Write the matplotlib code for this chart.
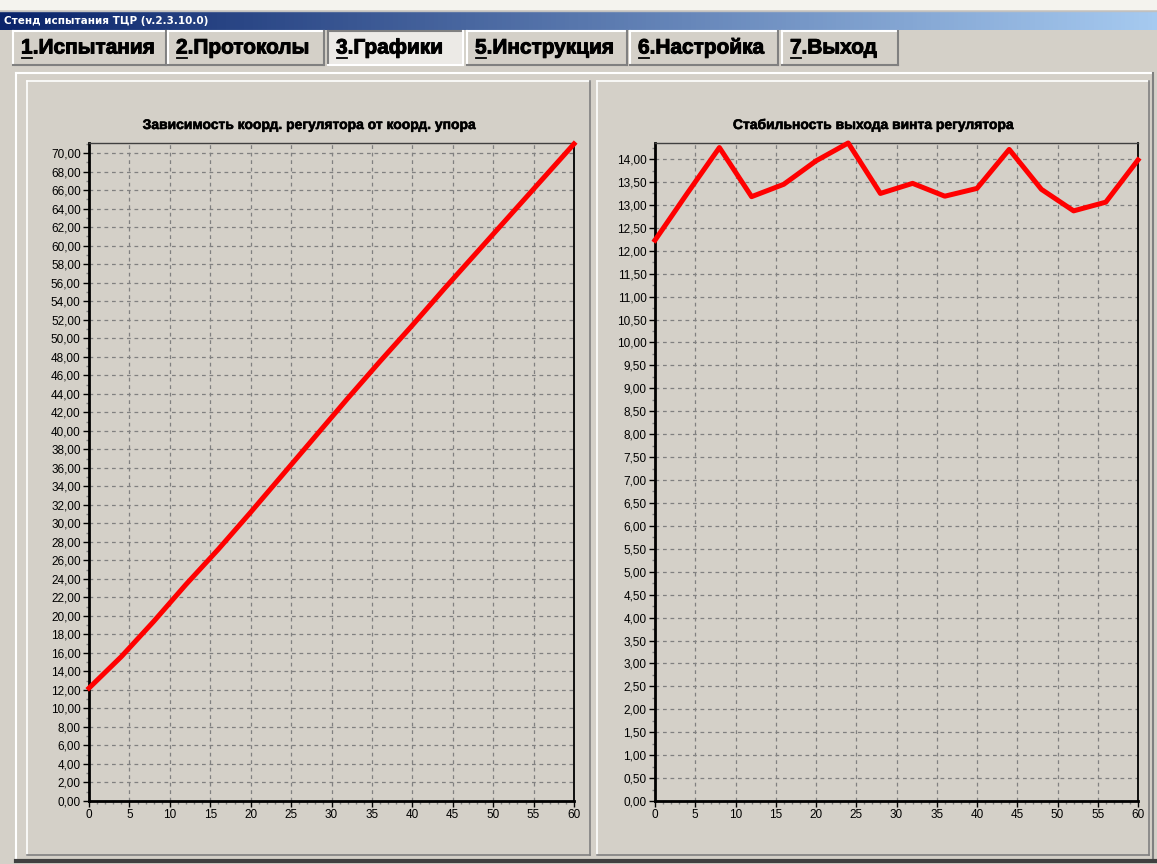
import numpy as np
import matplotlib
matplotlib.use('Agg')
import matplotlib.pyplot as plt
import matplotlib.patheffects as pe
from matplotlib.patches import Rectangle
from matplotlib.ticker import MultipleLocator, FuncFormatter

plt.rcParams['font.family'] = ['Liberation Sans', 'DejaVu Sans']

# data
x_pts = [0, 4, 8, 12, 16, 20, 24, 28, 32, 36, 40, 44, 48, 52, 56, 60]
reg_coord = [12.2, 15.6, 19.4, 23.4, 27.2, 31.2, 35.3, 39.4, 43.5, 47.5,
             51.4, 55.4, 59.3, 63.2, 67.1, 71.0]
screw_out = [12.23, 13.25, 14.25, 13.18, 13.45, 13.96, 14.35, 13.25, 13.47,
             13.19, 13.36, 14.21, 13.34, 12.87, 13.06, 13.98]

win_title = 'Стенд испытания ТЦР (v.2.3.10.0)'
tabs = [('1', '.Испытания'), ('2', '.Протоколы'), ('3', '.Графики'),
        ('5', '.Инструкция'), ('6', '.Настройка'), ('7', '.Выход')]
tab_x = [(13, 166), (168, 324), (328, 463), (467, 627), (630, 778), (782, 898)]
title_left = 'Зависимость коорд. регулятора от коорд. упора'
title_right = 'Стабильность выхода винта регулятора'

W, H = 1157, 864
BG = '#D4D0C8'
fig = plt.figure(figsize=(W / 100, H / 100), dpi=100)
fig.patch.set_facecolor(BG)

# background drawing area in pixel coords
bg = fig.add_axes([0, 0, 1, 1])
bg.set_xlim(0, W)
bg.set_ylim(H, 0)
bg.axis('off')

bg.add_patch(Rectangle((0, 0), W, 10, color='#F4F3EE', lw=0))
bg.plot([0, W], [10.5, 10.5], color='#C0C0C0', lw=1)
grad = np.linspace(0, 1, 256)
c0 = np.array([10, 36, 106]) / 255
c1 = np.array([166, 202, 240]) / 255
img = (c0[None, :] * (1 - grad[:, None]) + c1[None, :] * grad[:, None])[None, :, :]
bg.imshow(img, extent=[0, W, 30, 12], aspect='auto', zorder=1)
bg.text(4, 21, win_title, color='white', fontsize=7.5, fontweight='bold',
        family=['DejaVu Sans'], va='center', ha='left', zorder=2)

heavy = [pe.withStroke(linewidth=0.7, foreground='black')]


def bevel(x0, y0, x1, y1, raised=True, lw=1.2):
    light, dark = ('white', '#808080') if raised else ('#808080', 'white')
    bg.plot([x0, x1], [y0, y0], color=light, lw=lw, zorder=3)
    bg.plot([x0, x0], [y0, y1], color=light, lw=lw, zorder=3)
    bg.plot([x0, x1], [y1, y1], color=dark, lw=lw, zorder=3)
    bg.plot([x1, x1], [y0, y1], color=dark, lw=lw, zorder=3)


# tabs
fig.canvas.draw()
r = fig.canvas.get_renderer()
for (num, rest), (xa, xb) in zip(tabs, tab_x):
    pressed = num == '3'
    bg.add_patch(Rectangle((xa, 31), xb - xa, 34, color='#ECEAE6' if pressed else BG,
                           lw=0, zorder=2))
    bevel(xa, 31, xb, 65, raised=not pressed, lw=1.5)
    t1 = bg.text(xa + 8, 48, num, fontsize=15, fontweight='bold', va='center',
                 ha='left', zorder=4, path_effects=heavy)
    bb = t1.get_window_extent(r)
    xl = xa + 8
    xr = xl + bb.width
    bg.plot([xl + 1, xr - 1], [57.5, 57.5], color='black', lw=1.3, zorder=4)
    bg.text(xr, 48, rest, fontsize=15, fontweight='bold', va='center',
            ha='left', zorder=4, path_effects=heavy)

# panels
bevel(16, 73, 1153, 861, raised=True, lw=1.5)
bg.plot([16, 1155], [861, 861], color='#404040', lw=3, zorder=3)
bevel(27, 81, 590, 855, raised=True, lw=1.2)
bevel(597, 81, 1149, 855, raised=True, lw=1.2)


def make_axes(rect, xs, ys, ymax, ystep, yminor, title, tx):
    ax = fig.add_axes(rect)
    ax.set_facecolor(BG)
    ax.plot(xs, ys, color='#FF0000', lw=3.6, solid_joinstyle='round', clip_on=False, zorder=5)
    ax.set_xlim(0, 60)
    ax.set_ylim(0, ymax)
    ax.xaxis.set_major_locator(MultipleLocator(5))
    ax.xaxis.set_minor_locator(MultipleLocator(1))
    ax.yaxis.set_major_locator(MultipleLocator(ystep))
    ax.yaxis.set_minor_locator(MultipleLocator(yminor))
    ax.yaxis.set_major_formatter(FuncFormatter(lambda v, p: ('%.2f' % v).replace('.', ',')))
    ax.grid(True, which='major', color='#808080', lw=0.9, linestyle=(0, (3, 3)))
    ax.tick_params(which='major', length=4, width=1, labelsize=8.5, colors='black', pad=2)
    ax.tick_params(which='minor', length=2.5, width=1, color='#808080')
    for s in ['left', 'bottom']:
        ax.spines[s].set_linewidth(2)
        ax.spines[s].set_color('black')
    ax.spines['top'].set_linewidth(1)
    ax.spines['top'].set_color('#404040')
    ax.spines['right'].set_linewidth(1.3)
    ax.spines['right'].set_color('black')
    bg.text(tx, 125, title, fontsize=10, fontweight='bold', ha='center', va='center',
            path_effects=[pe.withStroke(linewidth=0.4, foreground='black')])
    return ax


make_axes([89 / W, 63 / H, 485 / W, 658 / H], x_pts, reg_coord, 71.1, 2, 1,
          title_left, 309)
make_axes([655 / W, 63 / H, 483 / W, 658 / H], x_pts, screw_out, 14.35, 0.5, 0.25,
          title_right, 873)

fig.savefig('out.png', dpi=100, facecolor=BG)
